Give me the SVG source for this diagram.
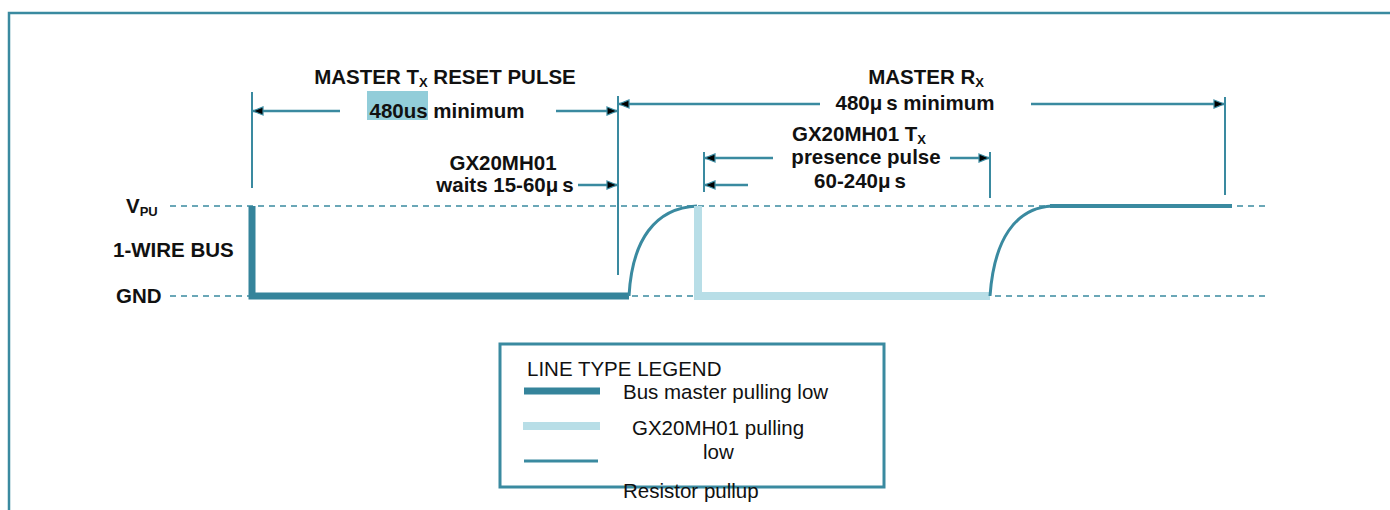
<svg xmlns="http://www.w3.org/2000/svg" width="1390" height="510" viewBox="0 0 1390 510">
<style>
.t{font-family:"Liberation Sans",Arial,sans-serif;font-weight:bold;font-size:20.5px;fill:#111}
.r{font-family:"Liberation Sans",Arial,sans-serif;font-size:20.5px;fill:#111}
.sub{font-size:13px}
.dim{stroke:#3a8aa0;stroke-width:2;fill:none}
.arr{stroke:#3a8aa0;stroke-width:2.5;fill:none;marker-end:url(#ah)}
.dash{stroke:#3a8aa0;stroke-width:1.5;stroke-dasharray:6,5;fill:none}
.master{stroke:#35849b;stroke-width:7;fill:none}
.slave{stroke:#b8dee7;stroke-width:8;fill:none}
.pull{stroke:#3a8aa0;stroke-width:3;fill:none}
</style>
<defs>
<marker id="ah" viewBox="0 0 12 10" refX="11" refY="5" markerWidth="12" markerHeight="10" markerUnits="userSpaceOnUse" orient="auto">
<path d="M1,1 L11,5 L1,9 Z" fill="#000" stroke="#3a8aa0" stroke-width="1.2"/>
</marker>
</defs>
<rect width="1390" height="510" fill="#fff"/>
<g id="frame"><path d="M9,510 V13 H1390" stroke="#3a8aa0" stroke-width="2.5" fill="none"/></g>

<g id="axis-labels">
<text class="t" x="126" y="213">V<tspan class="sub" dy="3">PU</tspan></text>
<text class="t" x="113" y="257">1-WIRE BUS</text>
<text class="t" x="116" y="303">GND</text>
</g>

<g id="rails">
<line class="dash" x1="170" y1="206" x2="1270" y2="206"/>
<line class="dash" x1="170" y1="296" x2="1270" y2="296"/>
</g>

<g id="waveform">
<path class="master" d="M252,206 V296 H629"/>
<path class="pull" d="M629,296 C632,240 655,208 697,206"/>
<path class="slave" d="M698,206 V296 H990"/>
<path class="pull" d="M990,296 C994,240 1015,208 1052,206"/>
<path d="M1050,206 H1232" stroke="#3a8aa0" stroke-width="4" fill="none"/>
</g>

<g id="connectors">
<line class="dim" x1="252" y1="92" x2="252" y2="188"/>
<line class="dim" x1="618" y1="96" x2="618" y2="275"/>
<line class="dim" x1="704" y1="152" x2="704" y2="192"/>
<line class="dim" x1="990" y1="152" x2="990" y2="198"/>
<line class="dim" x1="1225" y1="97" x2="1225" y2="195"/>
<line class="arr" x1="340" y1="111" x2="253" y2="111"/>
<line class="arr" x1="556" y1="111" x2="617" y2="111"/>
<line class="arr" x1="578" y1="185" x2="617" y2="185"/>
<line class="arr" x1="820" y1="104" x2="619" y2="104"/>
<line class="arr" x1="1031" y1="104" x2="1224" y2="104"/>
<line class="arr" x1="773" y1="158" x2="705" y2="158"/>
<line class="arr" x1="748" y1="185" x2="705" y2="185"/>
<line class="arr" x1="950" y1="158" x2="989" y2="158"/>
</g>

<g id="label-reset">
<text class="t" x="445" y="84" text-anchor="middle">MASTER T<tspan class="sub" dy="3">X</tspan><tspan dy="-3"> RESET PULSE</tspan></text>
<rect x="367" y="91" width="61" height="29" fill="#92cdd9"/>
<text class="t" x="447" y="118" text-anchor="middle">480us minimum</text>
</g>

<g id="label-wait">
<text class="t" x="503" y="170" text-anchor="middle">GX20MH01</text>
<text class="t" x="505" y="192" text-anchor="middle">waits 15-60μ<tspan dx="4">s</tspan></text>
</g>

<g id="label-rx">
<text class="t" x="926" y="84" text-anchor="middle">MASTER R<tspan class="sub" dy="3">X</tspan></text>
<text class="t" x="915" y="110" text-anchor="middle">480μ<tspan dx="4">s minimum</tspan></text>
</g>

<g id="label-presence">
<text class="t" x="859" y="141" text-anchor="middle">GX20MH01 T<tspan class="sub" dy="3">X</tspan></text>
<text class="t" x="866" y="164" text-anchor="middle">presence pulse</text>
<text class="t" x="860" y="188" text-anchor="middle">60-240μ<tspan dx="4">s</tspan></text>
</g>

<g id="legend">
<rect x="500" y="344" width="384" height="143" fill="none" stroke="#3a8aa0" stroke-width="3"/>
<text class="r" x="527" y="376">LINE TYPE LEGEND</text>
<line x1="524" y1="391" x2="600" y2="391" stroke="#35849b" stroke-width="7"/>
<text class="r" x="623" y="399">Bus master pulling low</text>
<line x1="523" y1="426" x2="600" y2="426" stroke="#b8dee7" stroke-width="8"/>
<text class="r" x="632" y="435">GX20MH01 pulling</text>
<text class="r" x="703" y="459">low</text>
<line x1="524" y1="461" x2="598" y2="461" stroke="#3a8aa0" stroke-width="3"/>
<text class="r" x="623" y="498">Resistor pullup</text>
</g>
</svg>
